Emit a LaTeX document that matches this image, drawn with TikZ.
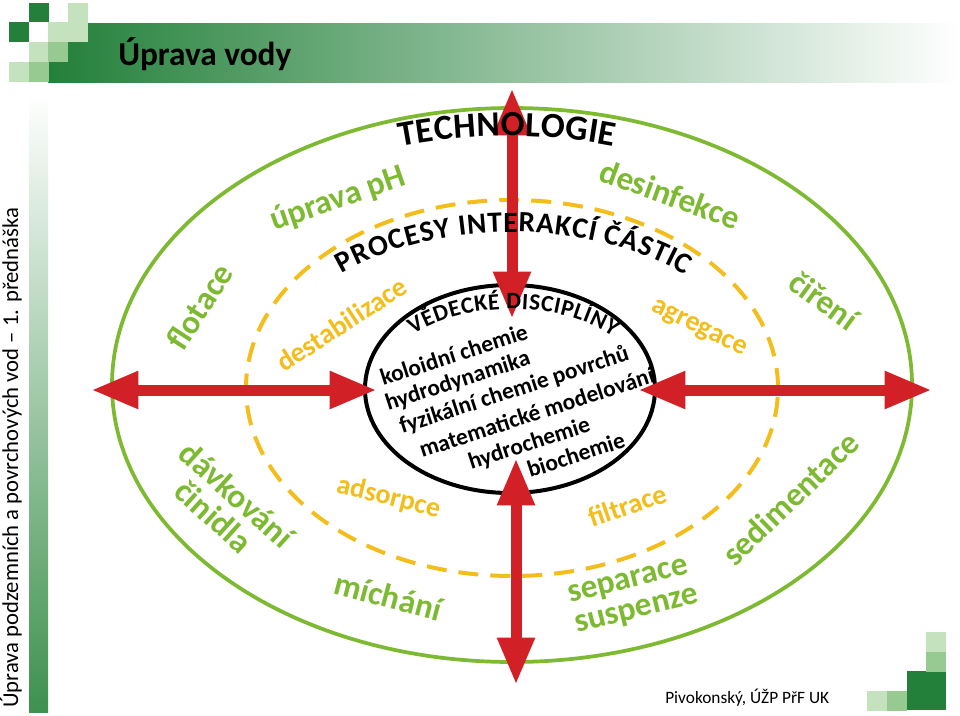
\documentclass[tikz,border=0pt]{standalone}
\usepackage{fontspec}
\setmainfont{Carlito}
\usepackage{xcolor}
\usepackage{tikz}
\usetikzlibrary{arrows.meta, decorations.text, positioning}

\definecolor{leafgreen}{RGB}{125,186,50}
\definecolor{sungold}{RGB}{243,190,28}
\definecolor{arrowred}{RGB}{210,32,39}
\definecolor{slidegreen}{RGB}{35,128,58}
\definecolor{barbottom}{RGB}{62,145,78}
\definecolor{sqlight}{RGB}{196,226,190}
\definecolor{sqmid}{RGB}{150,202,145}

\newcommand{\ringfont}{\bfseries\fontsize{26.5}{30}\selectfont}
\newcommand{\procfont}{\bfseries\fontsize{22}{25}\selectfont}
\newcommand{\discfont}{\bfseries\fontsize{17.5}{20}\selectfont}
\newcommand{\disctitlefont}{\bfseries\fontsize{17.5}{20}\selectfont}

\begin{document}
\begin{tikzpicture}[
    x=0.75pt, y=0.75pt,
    greenring/.style={draw=leafgreen, line width=2.8pt},
    goldring/.style={draw=sungold, line width=3pt, dash pattern=on 15pt off 9pt},
    coreoval/.style={draw=black, line width=3pt},
    biarrow/.style={draw=arrowred, line width=8.25pt,
        {Triangle[length=34pt,width=29pt,line width=0pt]}-{Triangle[length=34pt,width=29pt,line width=0pt]}},
    tech/.style={text=leafgreen, font=\bfseries\fontsize{25}{28}\selectfont, inner sep=0pt, anchor=base west},
    proc/.style={text=sungold, font=\bfseries\fontsize{21}{24}\selectfont, inner sep=0pt, anchor=base west},
    disc/.style={text=black, font=\discfont, inner sep=0pt, anchor=base west, rotate=18}
]
    \useasboundingbox (0,0) rectangle (960,-715);
    \fill[white] (0,0) rectangle (960,-715);

    % Slide frame
    \shade[left color=slidegreen, right color=white] (48,-23) rectangle (960,-82);
    \shade[top color=white, bottom color=barbottom] (29,-93) rectangle (48,-712);
    \fill[slidegreen] (29,-3) rectangle ++(19.5,-19.5);
    \fill[sqlight] (68,-3) rectangle ++(19.5,-19.5);
    \fill[slidegreen] (9,-22) rectangle ++(19.5,-19.5);
    \fill[white] (29,-22) rectangle ++(19.5,-19.5);
    \fill[sqlight] (48,-22) rectangle ++(19.5,-19.5);
    \fill[sqlight] (68,-22) rectangle ++(19.5,-19.5);
    \fill[sqlight] (29,-42) rectangle ++(19.5,-19.5);
    \fill[sqmid] (48,-42) rectangle ++(19.5,-19.5);
    \fill[sqlight] (9,-62) rectangle ++(19.5,-20);
    \fill[sqmid] (29,-62) rectangle ++(19.5,-20);
    \fill[sqlight] (867,-691) rectangle ++(19.5,-19.5);
    \fill[sqmid] (887,-691) rectangle ++(19.5,-19.5);
    \fill[slidegreen] (907,-671) rectangle ++(39,-39);
    \fill[sqmid] (926,-652) rectangle ++(19.5,-19.5);
    \fill[sqlight] (926,-632) rectangle ++(19.5,-19.5);

    \node[anchor=base west, inner sep=0pt, font=\bfseries\fontsize{25}{28}\selectfont] (title) at (118,-65) {Úprava vody};
    \node[anchor=base west, inner sep=0pt, rotate=90, font=\fontsize{17}{20}\selectfont] (lecture) at (18,-708) {Úprava podzemních a povrchových vod – 1. přednáška};
    \node[anchor=base west, inner sep=0pt, font=\fontsize{13}{15}\selectfont] (author) at (665,-703) {Pivokonský, ÚŽP PřF UK};

    % Rings
    \draw[greenring] (512,-385) ellipse [x radius=400, y radius=277];
    \draw[goldring] (512,-388) ellipse [x radius=266, y radius=188];
    \draw[coreoval] (510,-389) ellipse [x radius=145, y radius=104];

    % Arrows
    \coordinate (northout) at (512,-90);
    \coordinate (northin) at (512,-317);
    \coordinate (southin) at (516,-460);
    \coordinate (southout) at (516,-683);
    \coordinate (westout) at (93,-390);
    \coordinate (westin) at (375,-390);
    \coordinate (eastin) at (640,-390);
    \coordinate (eastout) at (930,-390);
    \draw[biarrow] (northout) -- (northin);
    \draw[biarrow] (southin) -- (southout);
    \draw[biarrow] (westout) -- (westin);
    \draw[biarrow] (eastin) -- (eastout);

    % Ring titles
    \path[decorate, decoration={text along path, text align=fit to path,
        text={|\ringfont|TECHNOLOGIE}}]
        (507,-696) ++(101:560) arc[start angle=101, end angle=79, radius=560];
    \path[decorate, decoration={text along path, text align=fit to path,
        text={|\procfont|PROCESY INTERAKCÍ ČÁSTIC}}]
        (512,-382) ++(133.5:247 and 150) arc[start angle=133.5, end angle=45.5, x radius=247, y radius=150];
    \path[decorate, decoration={text along path, text align=fit to path,
        text={|\disctitlefont|VĚDECKÉ DISCIPLÍNY}}]
        (512,-388) ++(138:133 and 79) arc[start angle=138, end angle=40.5, x radius=133, y radius=79];

    % Technologies
    \node[tech, rotate=19] (phadj) at (274,-231) {úprava pH};
    \node[tech, rotate=57] (flot) at (183,-353) {flotace};
    \node[tech, rotate=-20] (disinf) at (597,-180) {desinfekce};
    \node[tech, rotate=-36] (clarif) at (786,-287) {čiření};
    \node[tech, rotate=-42, anchor=base] (dosing) at (229,-503) {dávkování};
    \node[tech, rotate=-42, anchor=base] (agent) at (206,-525) {činidla};
    \node[tech, rotate=-15] (mixing) at (332,-593) {míchání};
    \node[tech, rotate=14] (separ) at (570,-603) {separace};
    \node[tech, rotate=14] (susp) at (577,-633) {suspenze};
    \node[tech, rotate=44] (sedim) at (735,-568) {sedimentace};

    % Particle processes
    \node[proc, rotate=33] (destab) at (284,-373) {destabilizace};
    \node[proc, rotate=-26] (aggreg) at (650,-310) {agregace};
    \node[proc, rotate=-14] (adsorp) at (335,-492) {adsorpce};
    \node[proc, rotate=19] (filtr) at (592,-528) {filtrace};

    % Disciplines
    \node[disc] (colloid) at (383,-386) {koloidní chemie};
    \node[disc] (hydrodyn) at (388,-411) {hydrodynamika};
    \node[disc] (surface) at (402,-434) {fyzikální chemie povrchů};
    \node[disc] (model) at (422,-458) {matematické modelování};
    \node[disc] (hydrochem) at (471,-470) {hydrochemie};
    \node[disc] (biochem) at (530,-478) {biochemie};

\end{tikzpicture}
\end{document}
